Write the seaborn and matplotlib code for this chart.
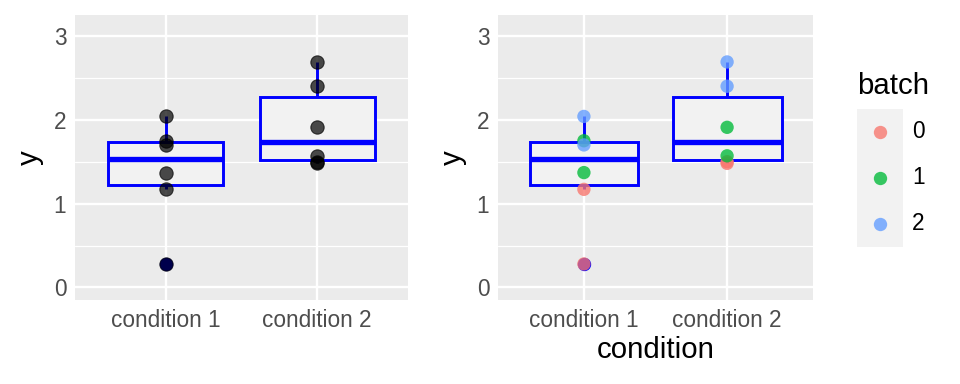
import pandas as pd
import matplotlib
matplotlib.use("Agg")
import matplotlib.pyplot as plt
import seaborn as sns

# data
conditions = ["condition 1"] * 6 + ["condition 2"] * 6
batches = ["0", "0", "1", "1", "2", "2"] * 2
values = [0.28, 1.17, 1.37, 1.75, 1.70, 2.04,
          1.48, 1.50, 1.57, 1.91, 2.40, 2.69]
batch_levels = ["0", "1", "2"]
batch_colors = ["#F8766D", "#00BA38", "#619CFF"]

df = pd.DataFrame({"condition": conditions, "batch": batches, "y": values})

sns.set_theme(style="darkgrid")
plt.rcParams["font.family"] = ["Liberation Sans", "DejaVu Sans"]

fig = plt.figure(figsize=(10, 4), dpi=96)
ax1 = fig.add_axes([75 / 960, 1 - 300 / 384, 333 / 960, 285 / 384])
ax2 = fig.add_axes([498 / 960, 1 - 300 / 384, 315 / 960, 285 / 384])


def draw_box(ax):
    sns.boxplot(data=df, x="condition", y="y", ax=ax, color="#F2F2F2",
                saturation=1, linecolor="blue", linewidth=2.2, width=0.76,
                showcaps=False,
                medianprops=dict(linewidth=4.0, color="blue"),
                flierprops=dict(marker="o", markerfacecolor="blue",
                                markeredgecolor="blue", markeredgewidth=0,
                                markersize=10))


def style_axes(ax, xlabel):
    ax.set_facecolor("#EBEBEB")
    ax.set_xlim(-0.6, 1.6)
    ax.set_ylim(-0.15, 3.25)
    ax.set_yticks([0, 1, 2, 3])
    ax.set_yticks([0.5, 1.5, 2.5], minor=True)
    ax.grid(which="major", color="white", linewidth=1.8)
    ax.grid(which="minor", axis="y", color="white", linewidth=0.9)
    ax.set_axisbelow(True)
    for s in ax.spines.values():
        s.set_visible(False)
    ax.tick_params(axis="both", which="major", length=3.5, width=1.4,
                   color="#333333", labelcolor="#4D4D4D", labelsize=17, pad=3)
    ax.tick_params(axis="both", which="minor", length=0)
    ax.set_ylabel("y", fontsize=22, color="black", labelpad=7)
    ax.set_xlabel(xlabel, fontsize=22, color="black", labelpad=3)


# left: black points
draw_box(ax1)
sns.stripplot(data=df, x="condition", y="y", ax=ax1, jitter=False,
              color="black", alpha=0.7, size=10, linewidth=0.8,
              edgecolor="black")
style_axes(ax1, "")

# right: coloured by batch
draw_box(ax2)
sns.stripplot(data=df, x="condition", y="y", hue="batch", ax=ax2,
              hue_order=batch_levels, palette=batch_colors, jitter=False,
              alpha=0.78, size=10, linewidth=0, legend=False)
style_axes(ax2, "condition")

# legend drawn as a small axes, ggplot style
lax = fig.add_axes([857 / 960, 1 - 247 / 384, 46 / 960, 138 / 384])
lax.set_facecolor("#F2F2F2")
lax.set_xlim(0, 1)
lax.set_ylim(2.5, -0.5)
lax.grid(False)
lax.set_xticks([])
lax.set_yticks([])
for s in lax.spines.values():
    s.set_visible(False)
for i, (lvl, col) in enumerate(zip(batch_levels, batch_colors)):
    lax.scatter([0.5], [i], s=100, color=col, alpha=0.78, linewidths=0)
    lax.text(1.2, i, lvl, fontsize=17, va="center", ha="left",
             color="black", clip_on=False)
lax.text(0.0, -1.0, "batch", fontsize=22, va="center", ha="left",
         color="black", clip_on=False)

fig.savefig("out.png", dpi=96)
